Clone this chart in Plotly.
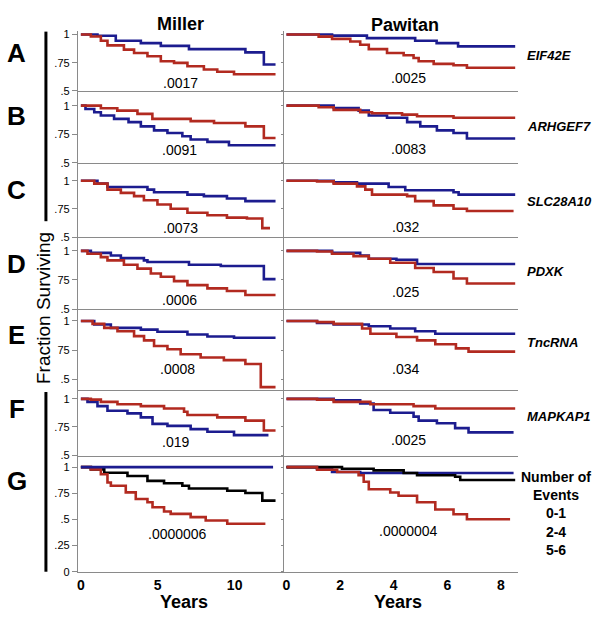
import plotly.graph_objects as go

RED = "#b22a20"
BLUE = "#1c1c8f"
BLACK = "#000000"
GRAY = "#8a8a8a"
FONT = "Liberation Sans, Arial, sans-serif"

# Kaplan-Meier curves: t = years, s = fraction surviving
# (last point of each list = end of follow-up)
miller_a_blue_t = [0, 1.08, 2.27, 3.9, 5.2, 7.03, 10.7, 11.9, 12.66]
miller_a_blue_s = [1, 0.989, 0.945, 0.924, 0.90, 0.871, 0.842, 0.734, 0.734]
miller_a_red_t = [0, 0.65, 1.3, 1.73, 2.8, 3.46, 4.33, 5.2, 6.06, 6.93, 8.0, 8.87, 9.96, 12.66]
miller_a_red_s = [1, 0.983, 0.945, 0.904, 0.866, 0.836, 0.807, 0.763, 0.749, 0.719, 0.69, 0.67, 0.647, 0.647]
pawitan_a_blue_t = [0, 1.7, 3.0, 4.8, 5.6, 6.4, 8.53]
pawitan_a_blue_s = [1, 0.991, 0.968, 0.945, 0.924, 0.895, 0.895]
pawitan_a_red_t = [0, 1.2, 1.7, 2.38, 2.75, 3.07, 3.75, 4.37, 4.74, 4.93, 5.49, 6.23, 6.73, 8.53]
pawitan_a_red_s = [1, 0.982, 0.962, 0.939, 0.91, 0.871, 0.836, 0.816, 0.792, 0.763, 0.74, 0.728, 0.705, 0.705]

miller_b_blue_t = [0, 0.3, 0.87, 1.3, 2.16, 3.1, 3.9, 4.76, 5.63, 6.6, 7.14, 8.23, 9.63, 12.66]
miller_b_blue_s = [1, 0.971, 0.943, 0.914, 0.885, 0.856, 0.819, 0.784, 0.761, 0.733, 0.704, 0.684, 0.655, 0.655]
miller_b_red_t = [0, 1.3, 2.37, 3.68, 4.65, 7.14, 8.66, 10.7, 11.9, 12.66]
miller_b_red_s = [1, 0.977, 0.957, 0.928, 0.885, 0.865, 0.848, 0.819, 0.718, 0.718]
pawitan_b_blue_t = [0, 1.76, 2.69, 3.07, 3.75, 4.5, 4.99, 5.61, 6.23, 6.73, 8.53]
pawitan_b_blue_s = [1, 0.98, 0.957, 0.914, 0.894, 0.856, 0.819, 0.784, 0.761, 0.713, 0.713]
pawitan_b_red_t = [0, 1.2, 1.76, 2.75, 3.19, 4.31, 4.87, 6.23, 8.53]
pawitan_b_red_s = [1, 0.986, 0.963, 0.943, 0.934, 0.922, 0.908, 0.894, 0.894]

miller_c_blue_t = [0, 1.08, 1.73, 4.33, 4.76, 6.93, 8.0, 9.5, 10.7, 12.66]
miller_c_blue_s = [1, 0.974, 0.944, 0.921, 0.898, 0.877, 0.863, 0.842, 0.819, 0.819]
miller_c_red_t = [0, 0.87, 1.73, 2.6, 3.46, 4.1, 4.98, 5.84, 6.93, 8.23, 9.5, 10.8, 11.8, 12.3]
miller_c_red_s = [1, 0.974, 0.921, 0.892, 0.863, 0.827, 0.789, 0.751, 0.716, 0.693, 0.672, 0.664, 0.579, 0.579]
pawitan_c_blue_t = [0, 1.76, 2.63, 3.81, 4.43, 6.23, 6.42, 8.53]
pawitan_c_blue_s = [1, 0.985, 0.974, 0.944, 0.915, 0.898, 0.877, 0.877]
pawitan_c_red_t = [0, 1.14, 1.76, 2.63, 2.94, 3.19, 4.5, 4.8, 5.49, 6.23, 6.73, 8.47]
pawitan_c_red_s = [1, 0.994, 0.974, 0.95, 0.921, 0.877, 0.863, 0.819, 0.781, 0.751, 0.731, 0.731]

miller_d_blue_t = [0, 0.65, 1.95, 2.6, 4.1, 4.33, 7.03, 9.1, 11.9, 12.66]
miller_d_blue_s = [1, 0.983, 0.96, 0.938, 0.918, 0.904, 0.881, 0.87, 0.757, 0.757]
miller_d_red_t = [0, 0.43, 1.3, 1.73, 2.8, 3.68, 4.55, 5.2, 6.06, 6.93, 8.23, 9.5, 10.7, 12.66]
miller_d_red_s = [1, 0.975, 0.946, 0.918, 0.881, 0.847, 0.805, 0.777, 0.74, 0.706, 0.678, 0.655, 0.621, 0.621]
pawitan_d_blue_t = [0, 1.7, 2.75, 3.07, 4.1, 4.87, 8.53]
pawitan_d_blue_s = [1, 0.983, 0.96, 0.932, 0.924, 0.887, 0.887]
pawitan_d_red_t = [0, 1.14, 1.7, 2.5, 3.07, 3.87, 4.8, 5.49, 6.23, 6.73, 8.53]
pawitan_d_red_s = [1, 0.994, 0.975, 0.955, 0.932, 0.898, 0.853, 0.819, 0.763, 0.72, 0.72]

miller_e_blue_t = [0, 0.87, 1.95, 3.9, 4.98, 6.93, 8.23, 9.96, 12.66]
miller_e_blue_s = [1, 0.969, 0.941, 0.926, 0.907, 0.884, 0.867, 0.856, 0.856]
miller_e_red_t = [0, 0.76, 1.52, 2.38, 3.46, 4.11, 4.76, 5.63, 6.49, 7.79, 9.3, 10.7, 11.7, 12.66]
miller_e_red_s = [1, 0.975, 0.941, 0.912, 0.87, 0.833, 0.785, 0.757, 0.714, 0.686, 0.664, 0.63, 0.432, 0.432]
pawitan_e_blue_t = [0, 1.14, 1.76, 3.07, 3.87, 4.8, 5.55, 8.53]
pawitan_e_blue_s = [1, 0.983, 0.969, 0.955, 0.935, 0.912, 0.89, 0.89]
pawitan_e_red_t = [0, 1.14, 1.76, 2.82, 3.13, 4.1, 4.87, 5.55, 6.32, 6.79, 8.53]
pawitan_e_red_s = [1, 0.99, 0.975, 0.935, 0.89, 0.862, 0.833, 0.8, 0.765, 0.737, 0.737]

miller_f_blue_t = [0, 0.43, 1.08, 1.73, 3.03, 3.9, 4.66, 5.63, 7.14, 8.23, 9.96, 12.2]
miller_f_blue_s = [1, 0.974, 0.936, 0.895, 0.871, 0.836, 0.778, 0.76, 0.731, 0.708, 0.678, 0.678]
miller_f_red_t = [0, 0.65, 1.3, 2.38, 3.9, 5.41, 6.71, 6.93, 8.87, 10.7, 11.9, 12.66]
miller_f_red_s = [1, 0.994, 0.974, 0.953, 0.936, 0.915, 0.886, 0.857, 0.836, 0.807, 0.719, 0.719]
pawitan_f_blue_t = [0, 1.76, 2.75, 3.25, 3.87, 4.74, 4.93, 5.61, 6.29, 6.79, 8.47]
pawitan_f_blue_s = [1, 0.988, 0.959, 0.901, 0.877, 0.842, 0.807, 0.784, 0.74, 0.702, 0.702]
pawitan_f_red_t = [0, 1.14, 1.76, 3.13, 4.74, 5.55, 8.53]
pawitan_f_red_s = [1, 0.994, 0.974, 0.953, 0.936, 0.915, 0.915]

# G: number of events 0-1 (blue), 2-4 (black), 5-6 (red)
miller_g_blue_t = [0, 12.5]
miller_g_blue_s = [1, 1]
miller_g_black_t = [0, 0.65, 1.52, 3.03, 4.33, 5.41, 6.6, 7.03, 9.52, 10.7, 11.8, 12.66]
miller_g_black_s = [1, 0.978, 0.946, 0.915, 0.868, 0.846, 0.821, 0.795, 0.774, 0.752, 0.679, 0.679]
miller_g_red_t = [0, 0.65, 1.3, 1.73, 1.95, 2.92, 3.57, 4.33, 4.66, 5.41, 5.84, 7.14, 8.12, 9.52, 12.0]
miller_g_red_s = [1, 0.978, 0.931, 0.852, 0.821, 0.758, 0.695, 0.664, 0.616, 0.575, 0.553, 0.522, 0.49, 0.459, 0.459]
pawitan_g_blue_t = [0, 1.14, 1.7, 2.75, 8.47]
pawitan_g_blue_s = [1, 0.984, 0.953, 0.944, 0.944]
pawitan_g_black_t = [0, 2.07, 3.25, 4.37, 4.87, 6.29, 6.48, 8.53]
pawitan_g_black_s = [1, 0.984, 0.969, 0.944, 0.922, 0.907, 0.876, 0.876]
pawitan_g_red_t = [0, 1.14, 1.89, 2.69, 2.88, 3.07, 3.87, 4.18, 4.87, 5.55, 6.23, 6.73, 8.34]
pawitan_g_red_s = [1, 0.975, 0.953, 0.922, 0.86, 0.788, 0.757, 0.726, 0.664, 0.595, 0.549, 0.502, 0.502]

row_letters = ["A", "B", "C", "D", "E", "F", "G"]
genes = ["EIF42E", "ARHGEF7", "SLC28A10", "PDXK", "TncRNA", "MAPKAP1"]
miller_p = [".0017", ".0091", ".0073", ".0006", ".0008", ".019", ".0000006"]
pawitan_p = [".0025", ".0083", ".032", ".025", ".034", ".0025", ".0000004"]
legend_lines = ["Number of", "Events", "0-1", "2-4", "5-6"]

curves = [
    [[(miller_a_blue_t, miller_a_blue_s, BLUE), (miller_a_red_t, miller_a_red_s, RED)],
     [(pawitan_a_blue_t, pawitan_a_blue_s, BLUE), (pawitan_a_red_t, pawitan_a_red_s, RED)]],
    [[(miller_b_blue_t, miller_b_blue_s, BLUE), (miller_b_red_t, miller_b_red_s, RED)],
     [(pawitan_b_blue_t, pawitan_b_blue_s, BLUE), (pawitan_b_red_t, pawitan_b_red_s, RED)]],
    [[(miller_c_blue_t, miller_c_blue_s, BLUE), (miller_c_red_t, miller_c_red_s, RED)],
     [(pawitan_c_blue_t, pawitan_c_blue_s, BLUE), (pawitan_c_red_t, pawitan_c_red_s, RED)]],
    [[(miller_d_blue_t, miller_d_blue_s, BLUE), (miller_d_red_t, miller_d_red_s, RED)],
     [(pawitan_d_blue_t, pawitan_d_blue_s, BLUE), (pawitan_d_red_t, pawitan_d_red_s, RED)]],
    [[(miller_e_blue_t, miller_e_blue_s, BLUE), (miller_e_red_t, miller_e_red_s, RED)],
     [(pawitan_e_blue_t, pawitan_e_blue_s, BLUE), (pawitan_e_red_t, pawitan_e_red_s, RED)]],
    [[(miller_f_blue_t, miller_f_blue_s, BLUE), (miller_f_red_t, miller_f_red_s, RED)],
     [(pawitan_f_blue_t, pawitan_f_blue_s, BLUE), (pawitan_f_red_t, pawitan_f_red_s, RED)]],
    [[(miller_g_black_t, miller_g_black_s, BLACK), (miller_g_red_t, miller_g_red_s, RED),
      (miller_g_blue_t, miller_g_blue_s, BLUE)],
     [(pawitan_g_blue_t, pawitan_g_blue_s, BLUE), (pawitan_g_black_t, pawitan_g_black_s, BLACK),
      (pawitan_g_red_t, pawitan_g_red_s, RED)]],
]

# layout, in pixels of the 600x635 reference
W, H = 600, 635
col_px = [(77, 283), (283, 518)]
x_ranges = [[-0.195, 13.18], [-0.11, 8.64]]
row_px = [(29, 90), (90, 163), (163, 238), (238, 311), (311, 393), (393, 460), (460, 577)]
y_ranges = [[0.5, 1.035], [0.5, 1.129], [0.5, 1.158], [0.5, 1.119],
            [0.407, 1.102], [0.49, 1.079], [0, 1.104]]
y_ticks = [[1, 0.75, 0.5]] * 6 + [[1, 0.75, 0.5, 0.25, 0]]
y_ticktext = [["1", ".75", ".5"]] * 3 + [["1", "75", ".5"]] * 2 + [["1", ".75", ".5"]] + \
             [["1", ".75", ".5", ".25", "0"]]
p_pos = [[(6.5, 0.57), (4.54, 0.614)], [(6.43, 0.612), (4.54, 0.62)],
         [(6.5, 0.576), (4.43, 0.585)], [(6.43, 0.579), (4.43, 0.65)],
         [(6.3, 0.587), (4.43, 0.587)], [(6.17, 0.614), (4.54, 0.638)],
         [(6.3, 0.365), (4.54, 0.39)]]
letter_py = [52, 115, 190, 265, 337, 412, 485]
gene_py = [54, 126, 202, 273, 345, 420]


def px(x, y):
    return dict(x=x / W, y=1 - y / H, xref="paper", yref="paper",
                xanchor="center", yanchor="middle", showarrow=False)


fig = go.Figure()
layout = {}
annotations = []

for r in range(7):
    for c in range(2):
        i = 2 * r + c
        suf = "" if i == 0 else str(i + 1)
        last = r == 6
        layout["xaxis" + suf] = dict(
            domain=[col_px[c][0] / W, col_px[c][1] / W], range=x_ranges[c],
            anchor="y" + suf, showline=True, linecolor=GRAY, linewidth=1,
            showgrid=False, zeroline=False, ticks="",
            showticklabels=last,
            tickvals=[0, 5, 10] if c == 0 else [0, 2, 4, 6, 8],
            tickfont=dict(size=14, color="black", weight="bold"),
        )
        layout["yaxis" + suf] = dict(
            domain=[1 - row_px[r][1] / H, 1 - row_px[r][0] / H], range=y_ranges[r],
            anchor="x" + suf, showline=True, linecolor=GRAY, linewidth=1,
            showgrid=False, zeroline=False,
            tickvals=y_ticks[r], ticktext=y_ticktext[r],
            ticks="outside", ticklen=5 if c == 0 else 2,
            tickcolor=GRAY, showticklabels=(c == 0),
            tickfont=dict(size=11, color="black"),
        )
        for t, s, color in curves[r][c]:
            fig.add_trace(go.Scatter(
                x=t, y=s, xaxis="x" + suf, yaxis="y" + suf, mode="lines",
                line=dict(shape="hv", color=color, width=2.6),
                showlegend=False, hoverinfo="skip"))
        ptxt = miller_p[r] if c == 0 else pawitan_p[r]
        annotations.append(dict(
            text=ptxt, x=p_pos[r][c][0], y=p_pos[r][c][1], xref="x" + suf, yref="y" + suf,
            showarrow=False, font=dict(size=14, color="black")))
    annotations.append(dict(text="<b>" + row_letters[r] + "</b>",
                            font=dict(size=26, color="black"), **px(16, letter_py[r])))

for g, py in zip(genes, gene_py):
    a = px(525, py)
    a["xanchor"] = "left"
    annotations.append(dict(text="<b><i>" + g + "</i></b>",
                            font=dict(size=13, color="black"), **a))

annotations.append(dict(text="<b>" + "<br>".join(legend_lines) + "</b>", align="center",
                        font=dict(size=14, color="black"), **px(556, 518)))

for txt, x, y in [("Miller", 180, 22), ("Pawitan", 405, 23)]:
    annotations.append(dict(text="<b>" + txt + "</b>", font=dict(size=18, color="black"),
                            **px(x, y)))
for x in [183, 398]:
    annotations.append(dict(text="<b>Years</b>", font=dict(size=18, color="black"), **px(x, 608)))

annotations.append(dict(text="Fraction Surviving", textangle=-90,
                        font=dict(size=19, color="black"), **px(42, 310)))

shapes = [
    dict(type="line", xref="paper", yref="paper", x0=45 / W, x1=45 / W,
         y0=1 - 30 / H, y1=1 - 222 / H, line=dict(color="black", width=3)),
    dict(type="line", xref="paper", yref="paper", x0=45 / W, x1=45 / W,
         y0=1 - 395 / H, y1=1 - 577 / H, line=dict(color="black", width=3)),
]

# no fixed size: the figure fills the browser window
fig.update_layout(
    autosize=True, margin=dict(l=0, r=0, t=0, b=0),
    paper_bgcolor="white", plot_bgcolor="white",
    font=dict(family=FONT, color="black"),
    annotations=annotations, shapes=shapes, **layout)

fig.write_html(
    "out.html", config={"displayModeBar": False, "responsive": True},
    default_width="100vw", default_height="100vh",
    post_script="var s=document.documentElement.style, b=document.body.style;"
                "b.margin='0'; b.overflow='hidden'; s.overflow='hidden';"
                "Plotly.Plots.resize(document.getElementById('{plot_id}'));")
